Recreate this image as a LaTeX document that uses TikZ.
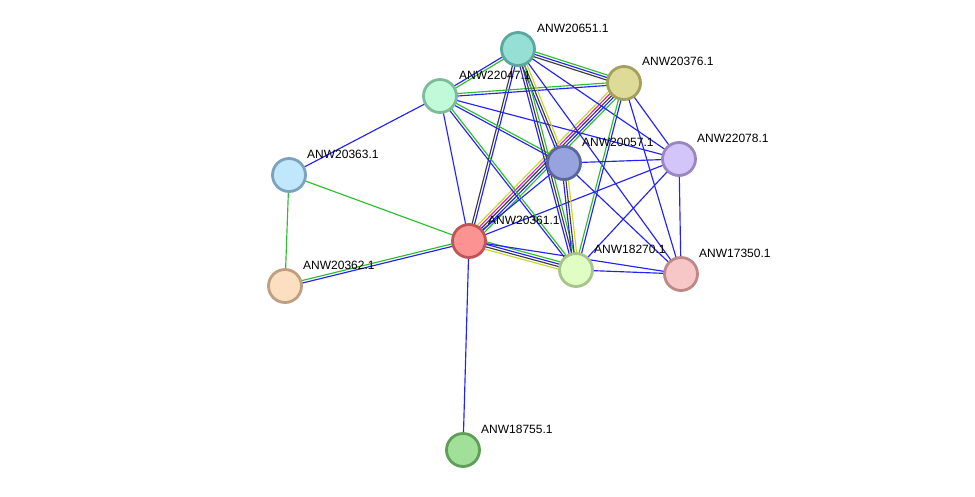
\documentclass[tikz,border=0pt]{standalone}
\usepackage{fontspec}
\setmainfont{Liberation Sans}
\usepackage{xcolor}
\usetikzlibrary{calc}
\usetikzlibrary{backgrounds}

\definecolor{lnblue}{RGB}{35,35,245}
\definecolor{lngreen}{RGB}{45,190,45}
\definecolor{lnblack}{RGB}{60,60,60}
\definecolor{lnmagenta}{RGB}{220,30,220}
\definecolor{lnyellow}{RGB}{200,215,40}

\tikzset{
	protein/.style={circle,line width=2.8pt,minimum size=33pt,inner sep=0pt},
	plabel/.style={anchor=west,inner sep=0pt,font=\fontsize{12}{14}\selectfont},
	strand/.style={line width=1.15pt},
}

% one coloured strand, shifted sideways by #4 (pt)
\newcommand{\strandline}[4]{%
	\draw[strand,#3] ($(#1)!#4pt!90:(#2)$) -- ($(#2)!#4pt!-90:(#1)$);}
% a link made of parallel strands
\newcommand{\linkedge}[3]{%
	\foreach \c [count=\n] in {#3} {\xdef\nstr{\n}}%
	\foreach \c [count=\i] in {#3} {%
		\pgfmathsetmacro\off{(\i-(\nstr+1)/2)*2.5}%
		\strandline{#1}{#2}{\c}{\off}}}

\begin{document}
\begin{tikzpicture}[x=1pt,y=-1pt]
	\useasboundingbox (0,0) rectangle (975,496);
	% proteins
	\node[protein,draw={rgb,255:red,91;green,168;blue,159},fill={rgb,255:red,150;green,223;blue,212}] (A) at (518,49) {};
	\node[protein,draw={rgb,255:red,163;green,160;blue,89},fill={rgb,255:red,222;green,219;blue,152}] (B) at (624,83) {};
	\node[protein,draw={rgb,255:red,125;green,188;blue,154},fill={rgb,255:red,192;green,250;blue,216}] (C) at (440,96) {};
	\node[protein,draw={rgb,255:red,90;green,103;blue,153},fill={rgb,255:red,151;green,163;blue,222}] (D) at (564,163) {};
	\node[protein,draw={rgb,255:red,154;green,134;blue,192},fill={rgb,255:red,211;green,197;blue,249}] (E) at (679,159) {};
	\node[protein,draw={rgb,255:red,123;green,163;blue,192},fill={rgb,255:red,192;green,231;blue,251}] (F) at (289,175) {};
	\node[protein,draw={rgb,255:red,192;green,85;blue,85},fill={rgb,255:red,252;green,147;blue,147}] (G) at (469,241) {};
	\node[protein,draw={rgb,255:red,166;green,197;blue,138},fill={rgb,255:red,224;green,253;blue,195}] (H) at (576,270) {};
	\node[protein,draw={rgb,255:red,190;green,136;blue,136},fill={rgb,255:red,247;green,199;blue,199}] (I) at (681,274) {};
	\node[protein,draw={rgb,255:red,191;green,159;blue,128},fill={rgb,255:red,252;green,222;blue,193}] (J) at (285,286) {};
	\node[protein,draw={rgb,255:red,94;green,158;blue,87},fill={rgb,255:red,160;green,224;blue,152}] (K) at (463,450) {};
	% names
	\node[plabel] (Alab) at (537,28) {ANW20651.1};
	\node[plabel] (Blab) at (642,61) {ANW20376.1};
	\node[plabel] (Clab) at (459,75) {ANW22047.1};
	\node[plabel] (Dlab) at (582,142) {ANW20057.1};
	\node[plabel] (Elab) at (697,138) {ANW22078.1};
	\node[plabel] (Flab) at (307,154) {ANW20363.1};
	\node[plabel] (Glab) at (488,220) {ANW20361.1};
	\node[plabel] (Hlab) at (594,249) {ANW18270.1};
	\node[plabel] (Ilab) at (699,253) {ANW17350.1};
	\node[plabel] (Jlab) at (303,265) {ANW20362.1};
	\node[plabel] (Klab) at (481,429) {ANW18755.1};
	% links
	\begin{scope}[on background layer]
		\linkedge{F}{C}{lnblue}
		\linkedge{F}{G}{lngreen}
		\linkedge{F}{J}{lngreen}
		\linkedge{J}{G}{lnblue,lngreen}
		\linkedge{G}{K}{lnblue}
		\linkedge{G}{A}{lnblue,lnblack}
		\linkedge{G}{C}{lnblue}
		\linkedge{G}{B}{lngreen,lnblue,lnblack,lnmagenta,lnyellow}
		\linkedge{G}{D}{lnblue}
		\linkedge{G}{H}{lnyellow,lnblack,lnblue,lngreen}
		\linkedge{G}{E}{lnblue}
		\linkedge{G}{I}{lnblue}
		\linkedge{C}{A}{lngreen,lnblue}
		\linkedge{C}{B}{lnblue,lngreen}
		\linkedge{C}{D}{lnblue,lngreen}
		\linkedge{C}{E}{lnblue}
		\linkedge{C}{H}{lnblue,lngreen}
		\linkedge{A}{B}{lnblack,lnblue,lngreen}
		\linkedge{A}{D}{lnblue,lnblack,lnyellow}
		\linkedge{A}{H}{lnblue,lnblack,lngreen}
		\linkedge{A}{E}{lnblue}
		\linkedge{A}{I}{lnblue}
		\linkedge{B}{H}{lngreen,lnblue}
		\linkedge{B}{E}{lnblue}
		\linkedge{B}{I}{lnblue}
		\linkedge{D}{E}{lnblue}
		\linkedge{D}{H}{lnblue,lnblack,lnyellow}
		\linkedge{D}{I}{lnblue}
		\linkedge{E}{H}{lnblue}
		\linkedge{E}{I}{lnblue}
		\linkedge{H}{I}{lnblue}
	\end{scope}
\end{tikzpicture}
\end{document}
